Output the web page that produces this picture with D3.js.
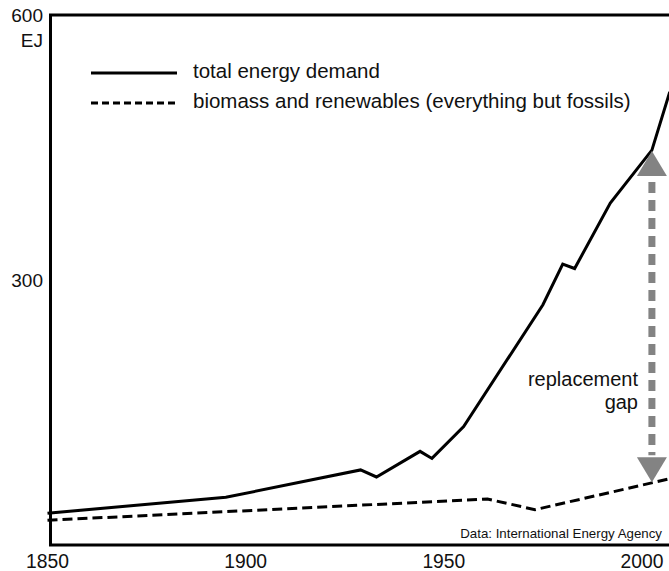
<!DOCTYPE html>
<html><head><meta charset="utf-8">
<script src="https://cdn.jsdelivr.net/npm/d3@7"></script>
<style>
html,body{margin:0;padding:0;background:#fff;}
svg{display:block;font-family:"Liberation Sans",Arial,Helvetica,sans-serif;}
</style></head>
<body>
<svg id="chart" width="669" height="571"></svg>
<script>
// ---- data ----
const totalYears  = [1850, 1895, 1929, 1933, 1944, 1947, 1955, 1975, 1980, 1983, 1992, 2002.5, 2007];
const totalValues = [36,   54,   85,   77,   106,  98,   134,  272,  318,  313,  387,  447,    513];
const bioYears  = [1850, 1961, 1973, 2007];
const bioValues = [28,   52,   40,   75];
const xTicks = [1850, 1900, 1950, 2000];
const yTicks = [300, 600];
const gapYear = 2002.5;
const gapTop = 446;
const gapBottom = 71;

const svg = d3.select("#chart");
const x = d3.scaleLinear().domain([1850, 2000]).range([47.5, 642]);
const y = d3.scaleLinear().domain([0, 600]).range([545, 15]);

const line = d3.line().x(d => x(d[0])).y(d => y(d[1]));
const total = totalYears.map((t, i) => [t, totalValues[i]]);
const bio = bioYears.map((t, i) => [t, bioValues[i]]);

// biomass dashed
svg.append("path").attr("d", line(bio)).attr("fill", "none")
  .attr("stroke", "#000").attr("stroke-width", 3).attr("stroke-dasharray", "10,5");
// total solid
svg.append("path").attr("d", line(total)).attr("fill", "none")
  .attr("stroke", "#000").attr("stroke-width", 3).attr("stroke-linejoin", "miter");

// replacement gap arrow
const ax = x(gapYear);
const yt = y(gapTop), yb = y(gapBottom);
const headH = 25, headW = 15;
svg.append("line").attr("x1", ax).attr("x2", ax)
  .attr("y1", yt + headH + 6).attr("y2", yb - headH - 2)
  .attr("stroke", "#838383").attr("stroke-width", 7).attr("stroke-dasharray", "11,7");
svg.append("path").attr("d", `M${ax},${yt} L${ax+headW},${yt+headH} L${ax-headW},${yt+headH} Z`).attr("fill", "#838383");
svg.append("path").attr("d", `M${ax},${yb} L${ax+headW},${yb-headH} L${ax-headW},${yb-headH} Z`).attr("fill", "#838383");

svg.append("text").attr("x", 638).attr("y", 386).attr("text-anchor", "end")
  .attr("font-size", 20).attr("fill", "#111").text("replacement");
svg.append("text").attr("x", 638).attr("y", 409).attr("text-anchor", "end")
  .attr("font-size", 20).attr("fill", "#111").text("gap");

// frame
svg.append("path").attr("d", `M720,${y(600)} L50.5,${y(600)} L50.5,${y(0)} L720,${y(0)}`)
  .attr("fill", "none").attr("stroke", "#000").attr("stroke-width", 3);

// y labels
yTicks.forEach(v => {
  svg.append("text").attr("x", 43).attr("y", y(v) + 7).attr("text-anchor", "end")
    .attr("font-size", 19).attr("fill", "#111").text(v);
});
svg.append("text").attr("x", 43).attr("y", 47).attr("text-anchor", "end")
  .attr("font-size", 19).attr("fill", "#111").text("EJ");

// x labels
xTicks.forEach(t => {
  svg.append("text").attr("x", x(t)).attr("y", 568).attr("text-anchor", "middle")
    .attr("font-size", 19.3).attr("fill", "#111").text(t);
});

// legend
const legend = [
  {label: "total energy demand", dash: null, yy: 73},
  {label: "biomass and renewables (everything but fossils)", dash: "7,4", yy: 103}
];
legend.forEach(l => {
  svg.append("line").attr("x1", 91).attr("x2", 177).attr("y1", l.yy).attr("y2", l.yy)
    .attr("stroke", "#000").attr("stroke-width", 3).attr("stroke-dasharray", l.dash);
  svg.append("text").attr("x", 193).attr("y", l.yy + 5).attr("font-size", 20.5)
    .attr("fill", "#111").text(l.label);
});

// source
svg.append("text").attr("x", 662).attr("y", 538).attr("text-anchor", "end")
  .attr("font-size", 13.3).attr("fill", "#111").text("Data: International Energy Agency");
</script>
</body></html>
